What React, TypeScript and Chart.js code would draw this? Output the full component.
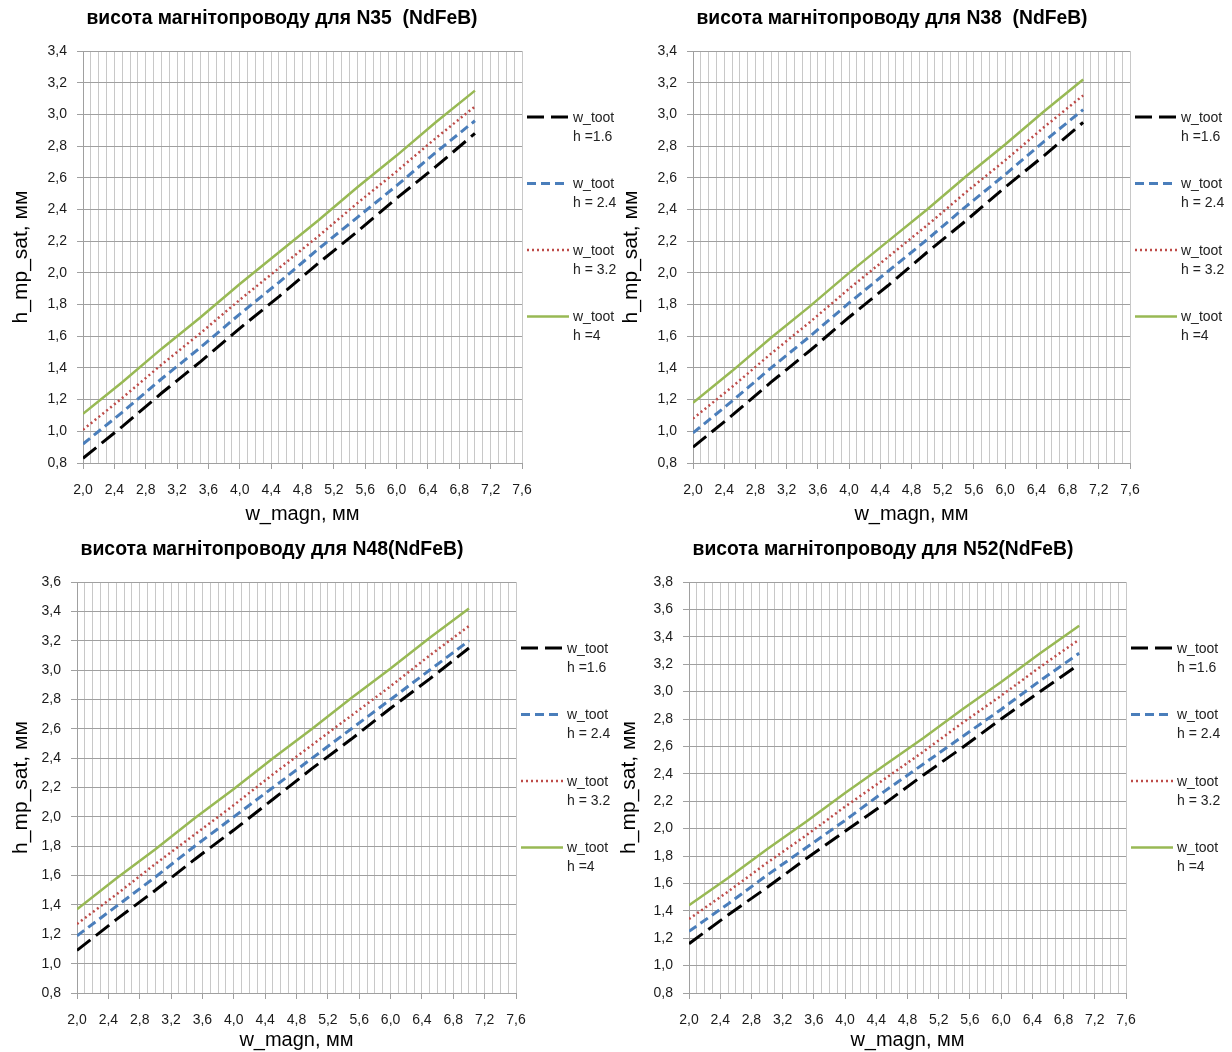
import React, { useEffect, useRef } from 'react';
import { Chart, registerables } from 'chart.js';

Chart.register(...registerables);

// ---------- DATA ----------
const xValues = [2.0, 2.5, 3.0, 3.5, 4.0, 4.5, 5.0, 5.5, 6.0, 6.5, 7.0];

const legendLines = [
  ['w_toot', 'h =1.6'],
  ['w_toot', 'h = 2.4'],
  ['w_toot', 'h = 3.2'],
  ['w_toot', 'h =4'],
];

// N35
const n35_h16 = [0.83, 1.03, 1.24, 1.44, 1.65, 1.85, 2.06, 2.26, 2.47, 2.67, 2.88];
const n35_h24 = [0.92, 1.12, 1.33, 1.53, 1.74, 1.94, 2.15, 2.35, 2.55, 2.76, 2.96];
const n35_h32 = [1.01, 1.21, 1.42, 1.62, 1.83, 2.03, 2.23, 2.44, 2.64, 2.85, 3.05];
const n35_h4 = [1.11, 1.31, 1.52, 1.72, 1.93, 2.13, 2.33, 2.54, 2.74, 2.95, 3.15];

// N38
const n38_h16 = [0.9, 1.1, 1.31, 1.51, 1.72, 1.92, 2.13, 2.33, 2.54, 2.74, 2.95];
const n38_h24 = [0.99, 1.19, 1.4, 1.6, 1.81, 2.01, 2.21, 2.42, 2.62, 2.83, 3.03];
const n38_h32 = [1.08, 1.28, 1.49, 1.69, 1.9, 2.1, 2.3, 2.51, 2.71, 2.92, 3.12];
const n38_h4 = [1.18, 1.38, 1.59, 1.79, 2.0, 2.2, 2.4, 2.61, 2.81, 3.02, 3.22];

// N48
const n48_h16 = [1.09, 1.3, 1.5, 1.71, 1.91, 2.12, 2.33, 2.53, 2.74, 2.94, 3.15];
const n48_h24 = [1.19, 1.39, 1.59, 1.8, 2.0, 2.2, 2.4, 2.6, 2.8, 3.0, 3.2];
const n48_h32 = [1.27, 1.47, 1.68, 1.88, 2.08, 2.29, 2.49, 2.69, 2.89, 3.1, 3.3];
const n48_h4 = [1.37, 1.58, 1.78, 1.99, 2.19, 2.4, 2.6, 2.81, 3.01, 3.22, 3.42];

// N52
const n52_h16 = [1.16, 1.37, 1.57, 1.78, 1.98, 2.18, 2.39, 2.59, 2.8, 3.0, 3.2];
const n52_h24 = [1.25, 1.45, 1.66, 1.86, 2.06, 2.27, 2.47, 2.67, 2.87, 3.08, 3.28];
const n52_h32 = [1.34, 1.54, 1.75, 1.95, 2.16, 2.36, 2.56, 2.77, 2.97, 3.18, 3.38];
const n52_h4 = [1.44, 1.64, 1.85, 2.05, 2.26, 2.46, 2.66, 2.87, 3.07, 3.28, 3.48];

const titles = [
  'висота магнітопроводу для N35  (NdFeB)',
  'висота магнітопроводу для N38  (NdFeB)',
  'висота магнітопроводу для N48(NdFeB)',
  'висота магнітопроводу для N52(NdFeB)',
];
const yMaxes = [3.4, 3.4, 3.6, 3.8];
const yMin = 0.8;
const yStep = 0.2;
const xMin = 2.0;
const xMax = 7.6;
const xLabelStep = 0.4;
const xTitle = 'w_magn, мм';
const yTitle = 'h_mp_sat, мм';

const chartSeries = [
  [n35_h16, n35_h24, n35_h32, n35_h4],
  [n38_h16, n38_h24, n38_h32, n38_h4],
  [n48_h16, n48_h24, n48_h32, n48_h4],
  [n52_h16, n52_h24, n52_h32, n52_h4],
];

// ---------- STYLE / LAYOUT ----------
const seriesStyles = [
  { color: '#000000', width: 3, dash: [17, 7] },
  { color: '#4a7ebb', width: 3, dash: [9, 5] },
  { color: '#be4b48', width: 2.5, dash: [2, 3] },
  { color: '#98b954', width: 2.5, dash: [] as number[] },
];

const CW = 616;
const CH = 526;

const layouts = [
  { left: 0, top: 0, box: { l: 83, t: 51, r: 522, b: 463 }, titleX: 282, titleY: 18, titleW: 391, yTitlePad: 9 },
  { left: 616, top: 0, box: { l: 693, t: 51, r: 1130, b: 463 }, titleX: 892, titleY: 18, titleW: 391, yTitlePad: 3 },
  { left: 0, top: 526, box: { l: 77, t: 582, r: 516, b: 993 }, titleX: 272, titleY: 549, titleW: 383, yTitlePad: 9 },
  { left: 616, top: 526, box: { l: 689, t: 582, r: 1126, b: 993 }, titleX: 883, titleY: 549, titleW: 381, yTitlePad: 1 },
];

const FONT = '"Liberation Sans", Arial, sans-serif';

const fmt = (v: number) => v.toFixed(1).replace('.', ',');

function makeChart(canvas: HTMLCanvasElement, idx: number) {
  const lay = layouts[idx];
  const series = chartSeries[idx];
  const datasets = series.map((vals, i) => ({
    label: legendLines[i].join(' '),
    data: vals.map((y, j) => ({ x: xValues[j], y })),
    borderColor: seriesStyles[i].color,
    backgroundColor: seriesStyles[i].color,
    borderWidth: seriesStyles[i].width,
    borderDash: seriesStyles[i].dash,
    pointRadius: 0,
    tension: 0,
    fill: false,
  }));

  const titlePlugin = {
    id: 'customTitle',
    afterDraw(chart: any) {
      const ctx = chart.ctx;
      ctx.save();
      ctx.font = `bold 20px ${FONT}`;
      ctx.fillStyle = '#000';
      ctx.textAlign = 'center';
      ctx.textBaseline = 'middle';
      ctx.fillText(titles[idx], lay.titleX - lay.left, lay.titleY - lay.top, lay.titleW);
      ctx.restore();
    },
  };

  const legendPlugin = {
    id: 'customLegend',
    afterDraw(chart: any) {
      const ctx = chart.ctx;
      const area = chart.chartArea;
      ctx.save();
      chart.data.datasets.forEach((ds: any, i: number) => {
        const y = area.top + 66 + i * 66.5;
        ctx.beginPath();
        ctx.strokeStyle = ds.borderColor;
        ctx.lineWidth = ds.borderWidth;
        ctx.setLineDash(ds.borderDash || []);
        ctx.moveTo(area.right + 5, y);
        ctx.lineTo(area.right + 47, y);
        ctx.stroke();
        ctx.setLineDash([]);
        ctx.font = `14px ${FONT}`;
        ctx.fillStyle = '#222';
        ctx.textAlign = 'left';
        ctx.textBaseline = 'middle';
        ctx.fillText(legendLines[i][0], area.right + 51, y + 1);
        ctx.fillText(legendLines[i][1], area.right + 51, y + 20);
      });
      ctx.restore();
    },
  };

  const isMajorX = (v: number) => Math.round((v - xMin) * 10) % Math.round(xLabelStep * 10) === 0;

  return new Chart(canvas, {
    type: 'line',
    data: { datasets },
    plugins: [titlePlugin, legendPlugin],
    options: {
      animation: false,
      responsive: false,
      devicePixelRatio: 1,
      layout: {
        padding: {
          left: 0,
          top: lay.box.t - lay.top,
          right: lay.left + CW - lay.box.r,
          bottom: 0,
        },
      },
      plugins: {
        legend: { display: false },
        title: { display: false },
        tooltip: { enabled: false },
      },
      scales: {
        x: {
          type: 'linear',
          min: xMin,
          max: xMax,
          afterFit(scale: any) {
            scale.height = lay.top + CH - lay.box.b;
          },
          ticks: {
            stepSize: 0.1,
            autoSkip: false,
            maxRotation: 0,
            minRotation: 0,
            padding: 13,
            color: '#1a1a1a',
            font: { family: FONT, size: 14 },
            callback: (v: any) => (isMajorX(Number(v)) ? fmt(Number(v)) : ''),
          },
          grid: {
            color: '#c8c8c8',
            lineWidth: 1,
            tickLength: 6,
            tickColor: (ctx: any) =>
              ctx.tick && isMajorX(ctx.tick.value) ? '#a0a0a0' : 'rgba(0,0,0,0)',
          },
          border: { color: '#a0a0a0', width: 1 },
          title: {
            display: true,
            text: xTitle,
            color: '#000',
            font: { family: FONT, size: 20 },
            padding: { top: 0, bottom: 0 },
          },
        },
        y: {
          type: 'linear',
          min: yMin,
          max: yMaxes[idx],
          afterFit(scale: any) {
            scale.width = lay.box.l - lay.left;
          },
          ticks: {
            stepSize: yStep,
            padding: 10,
            color: '#1a1a1a',
            font: { family: FONT, size: 14 },
            callback: (v: any) => fmt(Number(v)),
          },
          grid: {
            color: '#a0a0a0',
            lineWidth: 1,
            tickLength: 6,
            tickColor: '#a0a0a0',
          },
          border: { color: '#a0a0a0', width: 1 },
          title: {
            display: true,
            text: yTitle,
            color: '#000',
            font: { family: FONT, size: 21 },
            padding: { top: lay.yTitlePad, bottom: 0 },
          },
        },
      },
    },
  } as any);
}

function ChartPanel({ idx }: { idx: number }) {
  const ref = useRef<HTMLCanvasElement | null>(null);
  useEffect(() => {
    if (!ref.current) return;
    const chart = makeChart(ref.current, idx);
    return () => chart.destroy();
  }, [idx]);
  const lay = layouts[idx];
  return (
    <canvas
      ref={ref}
      width={CW}
      height={CH}
      style={{ position: 'absolute', left: lay.left, top: lay.top, width: CW, height: CH }}
    />
  );
}

export default function App() {
  return (
    <div
      style={{
        position: 'absolute',
        left: 0,
        top: 0,
        width: 1232,
        height: 1052,
        background: '#ffffff',
        overflow: 'hidden',
      }}
    >
      {[0, 1, 2, 3].map((i) => (
        <ChartPanel key={i} idx={i} />
      ))}
    </div>
  );
}
